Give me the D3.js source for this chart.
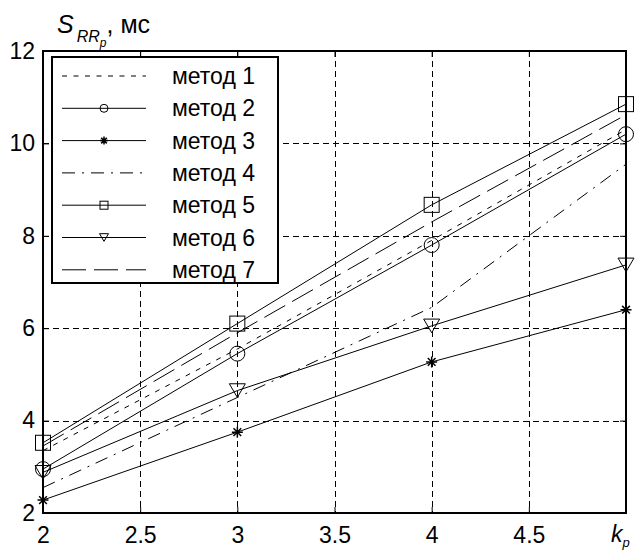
<!DOCTYPE html>
<html>
<head>
<meta charset="utf-8">
<script src="https://cdn.jsdelivr.net/npm/d3@7"></script>
<style>
  body { margin: 0; background: #fff; }
  text { font-family: "Liberation Sans", Arial, sans-serif; fill: #000; }
</style>
</head>
<body>
<svg width="639" height="550"></svg>
<script>
var kp = [2, 3, 4, 5];
var method1 = [3.35, 5.55, 7.9, 10.3];
var method2 = [2.95, 5.45, 7.8, 10.2];
var method3 = [2.28, 3.75, 5.27, 6.4];
var method4 = [2.55, 4.5, 6.45, 9.55];
var method5 = [3.52, 6.1, 8.67, 10.85];
var method6 = [2.88, 4.65, 6.05, 7.37];
var method7 = [3.45, 5.9, 8.3, 10.62];
var names = ["метод 1", "метод 2", "метод 3", "метод 4", "метод 5", "метод 6", "метод 7"];
var xTicks = [2, 2.5, 3, 3.5, 4, 4.5];
var yTicks = [2, 4, 6, 8, 10, 12];

var series = [
  { name: names[0], values: method1, dash: "5,6.5", marker: null },
  { name: names[1], values: method2, dash: null, marker: "circle" },
  { name: names[2], values: method3, dash: null, marker: "star" },
  { name: names[3], values: method4, dash: "13,7,2,7", marker: null },
  { name: names[4], values: method5, dash: null, marker: "square" },
  { name: names[5], values: method6, dash: null, marker: "triangle" },
  { name: names[6], values: method7, dash: "24,8", marker: null }
];

var svg = d3.select("svg");
var x = d3.scaleLinear().domain([2, 5]).range([43, 626]);
var y = d3.scaleLinear().domain([2, 12]).range([513, 51]);

// grid
var grid = svg.append("g").attr("stroke", "#000").attr("stroke-width", 1).attr("stroke-dasharray", "6,4");
grid.selectAll("line.v").data(xTicks.slice(1)).enter().append("line")
  .attr("x1", function(d) { return Math.round(x(d)) + 0.5; })
  .attr("x2", function(d) { return Math.round(x(d)) + 0.5; })
  .attr("y1", y(12)).attr("y2", y(2));
grid.selectAll("line.h").data([4, 6, 8, 10]).enter().append("line")
  .attr("y1", function(d) { return Math.round(y(d)) + 0.5; })
  .attr("y2", function(d) { return Math.round(y(d)) + 0.5; })
  .attr("x1", x(2)).attr("x2", x(5));

// axes (ticks pointing in, MATLAB style)
var fs = "23px";
var gx = svg.append("g").attr("transform", "translate(0," + y(2) + ")")
  .call(d3.axisBottom(x).tickValues(xTicks).tickSize(-6).tickPadding(14).tickFormat(d3.format("")));
var gy = svg.append("g").attr("transform", "translate(" + x(2) + ",0)")
  .call(d3.axisLeft(y).tickValues(yTicks).tickSize(-6).tickPadding(8));
var gt = svg.append("g").attr("transform", "translate(0," + y(12) + ")")
  .call(d3.axisTop(x).tickValues(xTicks).tickSize(-6).tickFormat(""));
var gr = svg.append("g").attr("transform", "translate(" + x(5) + ",0)")
  .call(d3.axisRight(y).tickValues(yTicks).tickSize(-6).tickFormat(""));
[gx, gy, gt, gr].forEach(function(g) {
  g.select(".domain").remove();
  g.selectAll("line").attr("stroke", "#000");
  g.selectAll("text").style("font-size", fs).attr("fill", "#000");
});

svg.append("rect")
  .attr("x", x(2)).attr("y", y(12))
  .attr("width", x(5) - x(2)).attr("height", y(2) - y(12))
  .attr("fill", "none").attr("stroke", "#000").attr("stroke-width", 2);

// markers
function drawMarker(g, type, cx, cy, s) {
  if (type === "circle") {
    g.append("circle").attr("cx", cx).attr("cy", cy).attr("r", s / 2)
      .attr("fill", "none").attr("stroke", "#000");
  } else if (type === "square") {
    g.append("rect").attr("x", cx - s / 2).attr("y", cy - s / 2).attr("width", s).attr("height", s)
      .attr("fill", "none").attr("stroke", "#000");
  } else if (type === "triangle") {
    var h = s * 0.85;
    g.append("path").attr("d", "M" + (cx - s / 2) + "," + (cy - h / 2) + "L" + (cx + s / 2) + "," + (cy - h / 2) + "L" + cx + "," + (cy + h / 2) + "Z")
      .attr("fill", "none").attr("stroke", "#000");
  } else if (type === "star") {
    var r = s / 2, k = r * 0.7;
    g.append("path").attr("d",
      "M" + (cx - r) + "," + cy + "L" + (cx + r) + "," + cy +
      "M" + cx + "," + (cy - r) + "L" + cx + "," + (cy + r) +
      "M" + (cx - k) + "," + (cy - k) + "L" + (cx + k) + "," + (cy + k) +
      "M" + (cx - k) + "," + (cy + k) + "L" + (cx + k) + "," + (cy - k))
      .attr("stroke", "#000").attr("stroke-width", 1.5);
  }
}

var line = d3.line()
  .x(function(d, i) { return x(kp[i]); })
  .y(function(d) { return y(d); });

var plot = svg.append("g");
series.forEach(function(s) {
  plot.append("path").datum(s.values)
    .attr("d", line)
    .attr("fill", "none").attr("stroke", "#000").attr("stroke-width", 1)
    .attr("stroke-dasharray", s.dash);
  if (s.marker) {
    var size = s.marker === "star" ? 11 : (s.marker === "triangle" ? 16 : 15);
    s.values.forEach(function(v, i) { drawMarker(plot, s.marker, x(kp[i]), y(v), size); });
  }
});

// legend
var lg = svg.append("g");
lg.append("rect").attr("x", 52).attr("y", 57).attr("width", 226).attr("height", 226)
  .attr("fill", "#fff").attr("stroke", "#000").attr("stroke-width", 2);
series.forEach(function(s, i) {
  var cy = 76 + i * 32.3;
  lg.append("line").attr("x1", 62).attr("x2", 146).attr("y1", cy).attr("y2", cy)
    .attr("stroke", "#000").attr("stroke-dasharray", s.dash);
  if (s.marker) drawMarker(lg, s.marker, 104, cy, s.marker === "triangle" ? 9 : 8);
  lg.append("text").attr("x", 172).attr("y", cy + 8).style("font-size", "23px").text(s.name);
});

// axis labels
var yl = svg.append("text").attr("x", 57).attr("y", 33).style("font-size", "25px");
yl.append("tspan").style("font-style", "italic").text("S");
yl.append("tspan").attr("dy", 9).attr("dx", 3).style("font-style", "italic").style("font-size", "16px").text("RR");
yl.append("tspan").attr("dy", 5).style("font-style", "italic").style("font-size", "12px").text("p");
yl.append("tspan").attr("dy", -14).style("font-size", "25px").text(", мс");

var xl = svg.append("text").attr("x", 611).attr("y", 542).style("font-size", "23px");
xl.append("tspan").style("font-style", "italic").text("k");
xl.append("tspan").attr("dy", 5).style("font-style", "italic").style("font-size", "13px").text("p");
</script>
</body>
</html>
